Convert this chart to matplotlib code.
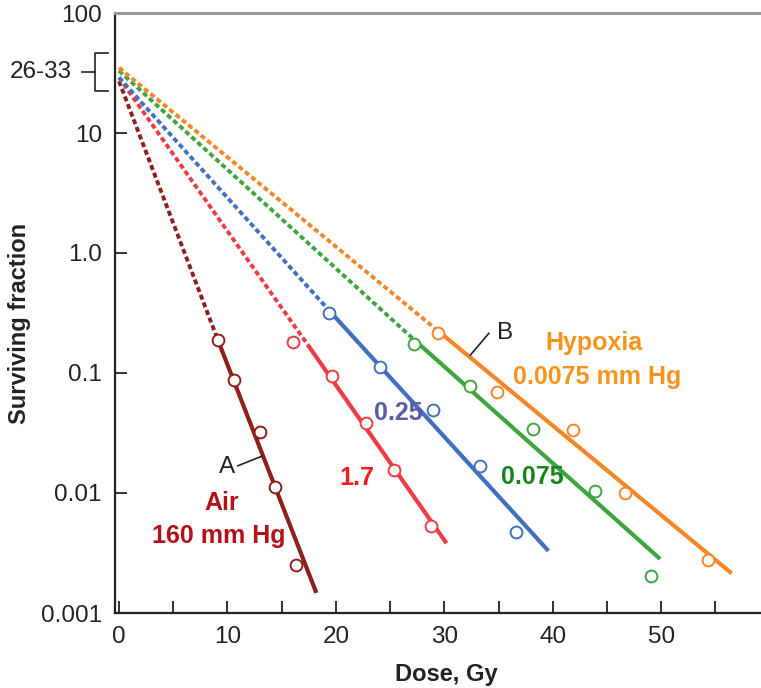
import matplotlib
matplotlib.use('Agg')
from matplotlib import pyplot as plt
from matplotlib.lines import Line2D

plt.rcParams['font.family'] = ['Liberation Sans', 'DejaVu Sans']

##### Data #####
# measured survival points (dose Gy, surviving fraction)
air_dose = [9.1, 10.6, 13.0, 14.4, 16.3]
air_sf = [0.188, 0.0875, 0.0323, 0.0112, 0.0025]
o17_dose = [16.0, 19.6, 22.8, 25.4, 28.8]
o17_sf = [0.181, 0.094, 0.0383, 0.0156, 0.0053]
o025_dose = [19.4, 24.1, 29.0, 33.3, 36.6]
o025_sf = [0.314, 0.113, 0.0492, 0.0168, 0.0047]
o0075_dose = [27.2, 32.35, 38.2, 43.9, 49.1]
o0075_sf = [0.174, 0.0784, 0.0343, 0.0103, 0.00205]
hyp_dose = [29.4, 34.9, 41.9, 46.7, 54.3]
hyp_sf = [0.217, 0.0699, 0.0337, 0.01005, 0.00275]

# fitted lines: start (x=0), start of solid part, end
air_fit_x = [0, 9.1, 18.2]
air_fit_y = [27, 0.19, 0.00147]
o17_fit_x = [0, 17.4, 30.2]
o17_fit_y = [29, 0.172, 0.00381]
o025_fit_x = [0, 19.4, 39.6]
o025_fit_y = [29, 0.33, 0.00329]
o0075_fit_x = [0, 27.2, 49.9]
o0075_fit_y = [33, 0.19, 0.00282]
hyp_fit_x = [0, 29.4, 56.5]
hyp_fit_y = [35, 0.225, 0.00214]

series = [
    (air_dose, air_sf, air_fit_x, air_fit_y, '#8E1F1A'),
    (o17_dose, o17_sf, o17_fit_x, o17_fit_y, '#EE3B44'),
    (o025_dose, o025_sf, o025_fit_x, o025_fit_y, '#4070C0'),
    (o0075_dose, o0075_sf, o0075_fit_x, o0075_fit_y, '#3FA53F'),
    (hyp_dose, hyp_sf, hyp_fit_x, hyp_fit_y, '#F5862A'),
]

y_ticks = [0.001, 0.01, 0.1, 1, 10, 100]
y_tick_labels = ['0.001', '0.01', '0.1', '1.0', '10', '100']
x_ticks = [0, 10, 20, 30, 40, 50]

##### Figure #####
W, H = 761, 688
fig = plt.figure(figsize=(W / 100, H / 100), dpi=100)
ax = fig.add_axes([115 / W, 1 - 613 / H, 1 - 115 / W, 600 / H])

for dose, sf, fx, fy, col in series:
    ax.plot(fx[:2], fy[:2], color=col, lw=2.8, linestyle=(0, (1.3, 0.8)),
            dash_capstyle='butt', solid_capstyle='butt', zorder=2)
    ax.plot(fx[1:], fy[1:], color=col, lw=3.0, solid_capstyle='butt', zorder=2)
    ax.plot(dose, sf, 'o', ms=8.5, mfc='white', mec=col, mew=1.4, zorder=3)

ax.set_yscale('log')
ax.set_ylim(0.001, 100)
ax.set_xlim(-0.37, 59.2)

ax.set_yticks(y_ticks)
ax.set_yticklabels(y_tick_labels)
ax.minorticks_off()
ax.set_xticks(x_ticks)
ax.set_xticks([5, 15, 25, 35, 45, 55], minor=True)
ax.tick_params(axis='both', which='both', direction='in', length=8.5, width=1.3,
               color='#222222', labelsize=17.5, labelcolor='#222222')
ax.tick_params(axis='y', pad=9.5)
ax.tick_params(axis='x', pad=9.5)

ax.spines['right'].set_visible(False)
ax.spines['top'].set_color('#9a9a9a')
ax.spines['top'].set_linewidth(2.2)
ax.spines['left'].set_color('#222222')
ax.spines['left'].set_linewidth(1.6)
ax.spines['bottom'].set_color('#222222')
ax.spines['bottom'].set_linewidth(1.6)

##### Labels on the curves #####
lab = dict(fontsize=18, fontweight='bold', ha='center', va='center')
ax.text(9.5, 0.00826, 'Air', color='#B3111A', **lab)
ax.text(9.2, 0.00438, '160 mm Hg', color='#B3111A', **lab)
ax.text(21.9, 0.01334, '1.7', color='#F21D24', **lab)
ax.text(25.8, 0.0464, '0.25', color='#5A5AA6', **lab)
ax.text(38.1, 0.0136, '0.075', color='#16861A', **lab)
ax.text(43.8, 0.178, 'Hypoxia', color='#F7941E', **lab)
ax.text(44.05, 0.0926, '0.0075 mm Hg', color='#F7941E', **lab)

# A / B call-outs
ax.text(9.93, 0.0166, 'A', fontsize=17.5, ha='center', va='center', color='#222222')
ax.plot([10.97, 13.2], [0.01687, 0.0203], color='#222222', lw=1.2)
ax.text(35.6, 0.215, 'B', fontsize=17.5, ha='center', va='center', color='#222222')
ax.plot([34.1, 32.4], [0.214, 0.141], color='#222222', lw=1.2)

##### 26-33 bracket #####
def fx_(px):
    return px / W

def fy_(py):
    return 1 - py / H

bk = dict(color='#222222', lw=1.2, transform=fig.transFigure)
fig.add_artist(Line2D([fx_(108), fx_(95), fx_(95), fx_(108)],
                      [fy_(53), fy_(53), fy_(91), fy_(91)], **bk))
fig.add_artist(Line2D([fx_(82), fx_(95)], [fy_(72), fy_(72)], **bk))
fig.text(fx_(72), fy_(72), '26-33', fontsize=17.5, ha='right', va='center', color='#222222')

fig.text(fx_(446), fy_(675), 'Dose, Gy', fontsize=17, fontweight='bold',
         ha='center', va='center', color='#222222')
fig.text(fx_(20), fy_(323), 'Surviving fraction', fontsize=17, fontweight='bold',
         rotation=90, ha='center', va='center', color='#222222')

plt.savefig('out.png', dpi=100)
